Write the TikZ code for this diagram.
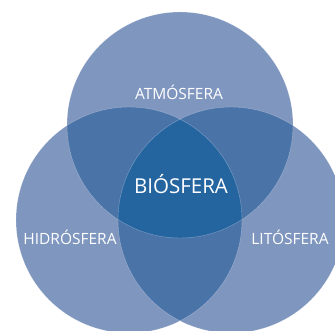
\documentclass[tikz,border=0pt]{standalone}
\usepackage{fontspec}
\setmainfont{Open Sans}
\definecolor{light}{RGB}{127,150,191}
\definecolor{mid}{RGB}{74,115,168}
\definecolor{dark}{RGB}{36,101,160}
\tikzset{lbl/.style={text=white,font=\fontsize{15.5}{15.5}\selectfont,inner sep=0pt},
         big/.style={text=white,font=\fontsize{20.5}{20.5}\selectfont,inner sep=0pt},
         rim/.style={draw=white,draw opacity=0.35,line width=0.4pt}}
\begin{document}
\begin{tikzpicture}[x=1pt,y=-1pt]
\useasboundingbox (0,0) rectangle (335,330);
\clip (0,0) rectangle (335,330);
\def\R{113}
\coordinate (A) at (180,125);
\coordinate (H) at (129,220);
\coordinate (L) at (231,220);
\fill[light] (A) circle[radius=\R];
\fill[light] (H) circle[radius=\R];
\fill[light] (L) circle[radius=\R];
\begin{scope}\clip (A) circle[radius=\R]; \fill[mid] (H) circle[radius=\R]; \fill[mid] (L) circle[radius=\R];\end{scope}
\begin{scope}\clip (H) circle[radius=\R]; \fill[mid] (L) circle[radius=\R];\end{scope}
\begin{scope}\clip (A) circle[radius=\R]; \clip (H) circle[radius=\R]; \fill[dark] (L) circle[radius=\R];\end{scope}
\draw[rim] (A) circle[radius=\R];
\draw[rim] (H) circle[radius=\R];
\draw[rim] (L) circle[radius=\R];
\node[lbl] (atm) at (179,92) {ATMÓSFERA};
\node[big] (bio) at (181,184) {BIÓSFERA};
\node[lbl] (hid) at (70,237) {HIDRÓSFERA};
\node[lbl] (lit) at (290,237) {LITÓSFERA};
\end{tikzpicture}
\end{document}
